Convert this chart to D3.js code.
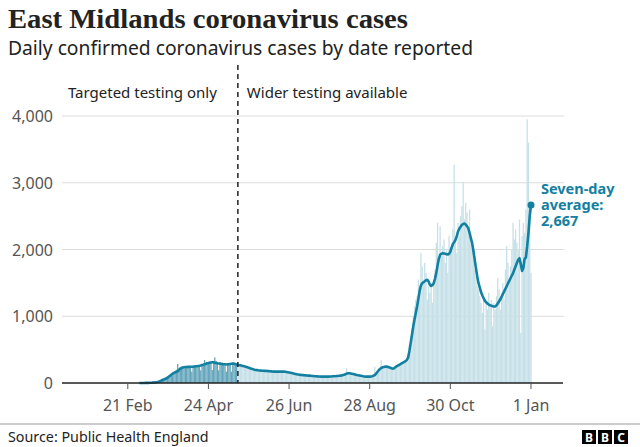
<!DOCTYPE html>
<html lang="en">
<head>
<meta charset="UTF-8">
<title>East Midlands coronavirus cases</title>
<script src="https://d3js.org/d3.v7.min.js"></script>
<style>
  body { margin: 0; background: #fff; }
  svg { display: block; font-family: "Noto Sans", sans-serif; }
</style>
</head>
<body>
<svg width="640" height="447"></svg>
<script>
// daily values start on 1 Mar 2020, one row per week
const firstDay = "2020-03-01";
const dailyCases = [
  0,0,0,1,1,2,2,
  3,3,5,6,8,10,12,
  15,20,30,35,45,55,60,
  75,90,105,120,135,115,150,
  180,200,285,220,230,245,240,
  215,235,250,225,240,245,170,
  250,260,240,265,270,255,190,
  275,280,345,290,300,295,310,
  300,195,320,385,330,310,190,
  305,300,290,280,285,170,290,
  295,285,170,300,290,285,280,
  265,250,290,270,240,260,235,
  250,230,210,240,200,190,215,
  195,180,200,175,190,185,200,
  180,170,185,165,175,180,160,
  170,165,180,175,160,170,165,
  175,160,170,180,150,165,155,
  140,150,135,125,140,120,130,
  115,125,120,110,125,105,115,
  110,100,115,95,105,100,90,
  95,100,90,85,100,95,90,
  100,95,105,90,110,100,105,
  110,100,115,105,120,110,130,
  140,220,150,140,135,145,130,
  130,125,120,115,110,105,100,
  100,95,105,90,95,100,90,
  110,120,245,150,180,200,210,
  345,250,240,260,230,245,250,
  240,230,210,215,240,260,250,
  280,270,300,310,290,320,340,
  420,560,700,820,1000,1150,1250,
  1300,1550,1450,1950,1750,1500,1800,
  1650,1250,1450,1350,1500,1200,1550,
  1700,2100,2400,1750,2350,1900,2050,
  2150,1800,2000,1650,2200,2000,2100,
  2300,3270,2150,1950,2400,2200,2500,
  2650,3015,2450,2700,2550,2300,2600,
  2100,2000,1850,1700,1600,1450,1400,
  1300,1200,1050,1250,800,1200,1100,
  1350,1150,1250,850,1200,1100,1300,
  1570,1400,1100,1350,1500,1250,1700,
  2050,1800,1500,1750,2000,2400,2150,
  2300,2100,2000,2450,750,2200,2400,
  2250,2600,3950,3600,2700,1650
];
const sevenDayAvg = [
  0,0,0,1,1,2,2,
  2,3,4,5,7,9,12,
  15,20,27,35,45,52,60,
  68,80,95,110,125,140,150,
  160,168,175,195,215,225,232,
  236,238,240,241,242,243,244,
  245,247,250,252,255,258,262,
  270,275,282,288,295,300,305,
  308,310,310,305,300,295,292,
  290,288,285,282,280,278,280,
  282,285,288,290,290,285,278,
  272,268,265,260,255,250,245,
  240,232,225,218,212,205,200,
  196,193,190,188,186,184,183,
  182,181,180,178,176,174,172,
  170,170,170,170,170,170,170,
  170,170,168,165,162,158,154,
  150,145,140,135,130,127,124,
  122,120,118,116,114,112,110,
  110,108,106,104,102,100,99,
  98,97,96,95,95,95,95,
  95,96,97,98,100,101,102,
  104,106,108,110,113,118,125,
  132,140,145,145,142,138,134,
  130,125,120,116,112,108,104,
  100,97,95,95,95,96,98,
  102,110,120,140,165,190,210,
  225,235,240,245,245,242,236,
  230,222,215,220,235,250,262,
  270,282,295,305,315,330,345,
  380,480,600,720,845,950,1050,
  1145,1260,1380,1460,1495,1510,1525,
  1540,1545,1520,1470,1455,1465,1495,
  1560,1650,1760,1860,1920,1935,1945,
  1940,1935,1930,1925,1935,1970,2030,
  2080,2110,2145,2200,2270,2310,2340,
  2370,2380,2390,2375,2350,2320,2250,
  2170,2095,1980,1850,1720,1600,1495,
  1430,1360,1310,1270,1230,1210,1190,
  1175,1165,1160,1150,1145,1145,1160,
  1190,1220,1250,1290,1330,1370,1410,
  1450,1490,1530,1570,1610,1645,1700,
  1750,1800,1845,1870,1780,1680,1720,
  1860,1880,2045,2250,2500,2667
];
const yTicks = [0, 1000, 2000, 3000, 4000];
const xTickDates = ["2020-02-21", "2020-04-24", "2020-06-26", "2020-08-28", "2020-10-30", "2021-01-01"];
const testingChange = "2020-05-17";
const latestLabel = ["Seven-day", "average:", "2,667"];

const svg = d3.select("svg");
const parse = d3.utcParse("%Y-%m-%d");
const start = parse(firstDay);
const days = dailyCases.map((v, i) => ({
  date: d3.utcDay.offset(start, i),
  cases: v,
  avg: sevenDayAvg[i]
}));

const x = d3.scaleUtc()
  .domain([parse("2020-01-01"), parse("2021-01-26")])
  .range([62.5, 563]);
const y = d3.scaleLinear().domain([0, 4000]).range([383, 116]);

const blue = "#1380a1";
const changeDate = parse(testingChange);

// gridlines + y labels
svg.append("g").selectAll("line")
  .data(yTicks.filter(d => d > 0))
  .join("line")
  .attr("x1", 62).attr("x2", 564)
  .attr("y1", d => y(d)).attr("y2", d => y(d))
  .attr("stroke", "#dcdcdc").attr("stroke-width", 1);

svg.append("g").selectAll("text")
  .data(yTicks)
  .join("text")
  .attr("x", 53).attr("y", d => y(d) + 6)
  .attr("text-anchor", "end")
  .attr("font-size", 16).attr("fill", "#555")
  .text(d => d3.format(",")(d));

// bars
const barW = x(d3.utcDay.offset(start, 1)) - x(start);
svg.append("g").selectAll("rect")
  .data(days)
  .join("rect")
  .attr("x", d => x(d.date) - barW / 2)
  .attr("width", barW)
  .attr("y", d => y(d.cases))
  .attr("height", d => y(0) - y(d.cases))
  .attr("fill", d => d.date < changeDate ? "#66a6bc" : "#c6e0e8");

// seven-day average line
svg.append("path")
  .datum(days)
  .attr("fill", "none")
  .attr("stroke", blue)
  .attr("stroke-width", 2.6)
  .attr("stroke-linejoin", "round")
  .attr("d", d3.line().x(d => x(d.date)).y(d => y(d.avg)));

const last = days[days.length - 1];
svg.append("circle")
  .attr("cx", x(last.date)).attr("cy", y(last.avg))
  .attr("r", 3.5).attr("fill", blue);

svg.append("text")
  .attr("x", x(last.date) + 10).attr("y", y(last.avg) - 11)
  .attr("font-size", 14.5).attr("font-weight", "bold").attr("fill", blue)
  .selectAll("tspan")
  .data(latestLabel)
  .join("tspan")
  .attr("x", x(last.date) + 10)
  .attr("dy", (d, i) => i === 0 ? 0 : 16)
  .text(d => d);

// x axis
svg.append("line")
  .attr("x1", 62).attr("x2", 563)
  .attr("y1", y(0)).attr("y2", y(0))
  .attr("stroke", "#222").attr("stroke-width", 1.5);

const xt = svg.append("g").selectAll("g")
  .data(xTickDates.map(parse))
  .join("g")
  .attr("transform", d => `translate(${x(d)},0)`);
xt.append("line")
  .attr("y1", y(0)).attr("y2", y(0) + 6)
  .attr("stroke", "#555").attr("stroke-width", 1);
xt.append("text")
  .attr("y", 411).attr("text-anchor", "middle")
  .attr("font-size", 16).attr("fill", "#555")
  .text(d3.utcFormat("%-d %b"));

// testing change marker
const cx = x(changeDate);
svg.append("line")
  .attr("x1", cx).attr("x2", cx)
  .attr("y1", 65).attr("y2", y(0))
  .attr("stroke", "#222").attr("stroke-width", 1.5)
  .attr("stroke-dasharray", "5,4");
svg.append("text")
  .attr("x", cx - 21).attr("y", 98)
  .attr("text-anchor", "end")
  .attr("font-size", 15).attr("fill", "#222")
  .text("Targeted testing only");
svg.append("text")
  .attr("x", cx + 9).attr("y", 98)
  .attr("font-size", 15).attr("fill", "#222")
  .text("Wider testing available");

// titles
svg.append("text")
  .attr("x", 8).attr("y", 28)
  .attr("font-family", "'Liberation Serif', serif")
  .attr("font-size", 28).attr("font-weight", "bold").attr("fill", "#222")
  .attr("textLength", 400).attr("lengthAdjust", "spacingAndGlyphs")
  .text("East Midlands coronavirus cases");
svg.append("text")
  .attr("x", 8).attr("y", 55)
  .attr("font-size", 19).attr("fill", "#222")
  .attr("textLength", 465).attr("lengthAdjust", "spacingAndGlyphs")
  .text("Daily confirmed coronavirus cases by date reported");

// footer
svg.append("line")
  .attr("x1", 0).attr("x2", 640).attr("y1", 424).attr("y2", 424)
  .attr("stroke", "#999").attr("stroke-width", 1);
svg.append("text")
  .attr("x", 8).attr("y", 442)
  .attr("font-size", 14.3).attr("fill", "#222")
  .text("Source: Public Health England");

const logo = svg.append("g").attr("transform", "translate(582,430)");
logo.selectAll("rect").data(["B", "B", "C"]).join("rect")
  .attr("x", (d, i) => i * 16).attr("width", 14).attr("height", 14)
  .attr("fill", "#000");
logo.selectAll("text").data(["B", "B", "C"]).join("text")
  .attr("x", (d, i) => i * 16 + 7).attr("y", 12)
  .attr("text-anchor", "middle")
  .attr("font-size", 12).attr("font-weight", "bold").attr("fill", "#fff")
  .text(d => d);
</script>
</body>
</html>
